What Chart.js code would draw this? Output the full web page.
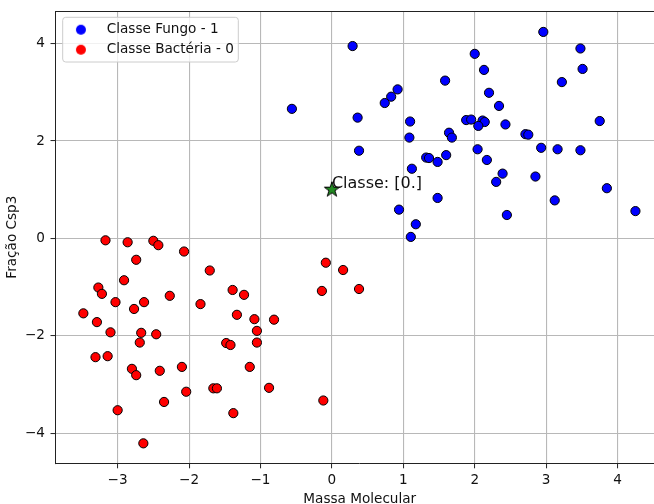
<!DOCTYPE html>
<html><head><meta charset="utf-8">
<script src="https://cdn.jsdelivr.net/npm/chart.js@4"></script>
<style>html,body{margin:0;padding:0;overflow:hidden;background:#fff;width:654px;height:504px}canvas{display:block}</style>
</head><body>
<canvas id="c" width="664" height="512"></canvas>
<script>
// ---- data ----
const blueX = [0.29,-0.56,1.585,0.92,0.83,0.74,0.36,1.095,1.64,1.68,1.085,0.38,1.32,1.36,1.60,1.48,1.12,1.48,0.94,1.175,1.105,
  2.96,3.48,2.00,2.13,3.51,3.22,2.20,2.34,1.88,1.95,2.11,2.14,2.05,2.43,3.75,2.71,2.75,2.04,2.93,3.16,3.48,2.17,2.39,2.30,2.85,3.85,3.12,4.25,2.45];
const blueY = [3.95,2.66,3.24,3.06,2.91,2.78,2.48,2.40,2.17,2.07,2.07,1.80,1.66,1.65,1.71,1.57,1.43,0.83,0.59,0.29,0.03,
  4.24,3.90,3.79,3.46,3.48,3.21,2.99,2.72,2.43,2.44,2.42,2.39,2.31,2.34,2.41,2.14,2.13,1.83,1.86,1.83,1.81,1.61,1.33,1.16,1.27,1.03,0.78,0.56,0.48];
const redX = [-3.17,-2.86,-2.50,-2.43,-2.07,-2.74,-1.71,-2.91,-3.27,-3.22,-2.27,-3.03,-2.63,-2.77,-1.84,-3.48,-3.29,-3.10,-2.67,-2.46,-2.69,-3.31,-3.14,-2.80,-2.74,-2.41,-2.10,-2.04,-2.35,-3.00,-2.64,
  -1.39,-1.23,-1.33,-1.085,-0.81,-1.05,-1.48,-1.42,-1.05,-1.15,-1.66,-1.61,-0.88,-1.38,-0.085,0.157,-0.14,0.38,-0.12];
const redY = [-0.04,-0.08,-0.05,-0.14,-0.27,-0.44,-0.66,-0.86,-1.01,-1.14,-1.18,-1.31,-1.31,-1.45,-1.35,-1.54,-1.72,-1.93,-1.94,-1.97,-2.14,-2.44,-2.42,-2.68,-2.81,-2.72,-2.64,-3.15,-3.36,-3.53,-4.21,
  -1.06,-1.16,-1.57,-1.66,-1.67,-1.90,-2.15,-2.19,-2.14,-2.64,-3.08,-3.08,-3.07,-3.59,-0.50,-0.65,-1.08,-1.04,-3.33];
const starX = [0];
const starY = [1];
const seriesLabels = ['Classe Fungo - 1', 'Classe Bactéria - 0'];
const annotationText = 'Classe: [0.]';
const xTicks = [-3,-2,-1,0,1,2,3,4];
const yTicks = [-4,-2,0,2,4];
const xTitle = 'Massa Molecular';
const yTitle = 'Fração Csp3';

// ---- styling helpers ----
const FONT = 'DejaVu Sans';
const colors = ['#0000ff', '#ff0000'];
const toPts = (xs, ys) => xs.map((x, i) => ({x, y: ys[i]}));
const fmt = v => v < 0 ? '\u2212' + Math.abs(v) : String(v);

function makeStar(R, fill) {
  const s = 20, c = document.createElement('canvas'); c.width = c.height = s;
  const g = c.getContext('2d'), cx = s / 2, cy = s / 2, r = R * 0.381966;
  g.beginPath();
  for (let i = 0; i < 10; i++) {
    const rr = i % 2 ? r : R, a = -Math.PI / 2 + i * Math.PI / 5;
    g.lineTo(cx + rr * Math.cos(a), cy + rr * Math.sin(a));
  }
  g.closePath(); g.fillStyle = fill; g.fill(); g.lineWidth = 1; g.strokeStyle = '#000'; g.stroke();
  return c;
}
function makeDot(r, fill) {
  const s = 12, c = document.createElement('canvas'); c.width = c.height = s;
  const g = c.getContext('2d');
  g.beginPath(); g.arc(s / 2, s / 2, r, 0, Math.PI * 2); g.fillStyle = fill; g.fill();
  return c;
}
const legendDots = colors.map(c => makeDot(5, c));

Chart.defaults.font.family = FONT;
Chart.defaults.font.size = 13.6;
Chart.defaults.color = '#111';

const X_MIN = -3.87, X_MAX = 4.65, Y_MIN = -4.62, Y_MAX = 4.67;

const custom = {
  id: 'custom',
  afterLayout(chart) {
    const lg = chart.legend, a = chart.chartArea;
    lg.left = a.left; lg.right = a.right; lg.top = a.top + 5.5; lg.bottom = a.bottom;
    if (!lg._framed) {
      const orig = lg.draw;
      lg.draw = function () {
        const ctx = chart.ctx, ar = chart.chartArea;
        const x = ar.left + 7.2, y = ar.top + 6.3, w = 175.6, h = 44.7, r = 3;
        ctx.save();
        ctx.beginPath();
        ctx.roundRect(x, y, w, h, r);
        ctx.fillStyle = 'rgba(255,255,255,0.8)'; ctx.fill();
        ctx.lineWidth = 1; ctx.strokeStyle = '#cccccc'; ctx.stroke();
        ctx.restore();
        return orig.apply(this, arguments);
      };
      lg._framed = true;
    }
  },
  afterDatasetsDraw(chart) {
    const ctx = chart.ctx, xs = chart.scales.x, ys = chart.scales.y;
    ctx.save();
    ctx.font = '16px "' + FONT + '"';
    ctx.fillStyle = '#111'; ctx.textAlign = 'left'; ctx.textBaseline = 'alphabetic';
    ctx.fillText(annotationText, xs.getPixelForValue(starX[0]), ys.getPixelForValue(starY[0]) - 2);
    ctx.restore();
  }
};

const noPad = s => { s.paddingTop = 0; s.paddingBottom = 0; s.paddingLeft = 0; s.paddingRight = 0; };

new Chart(document.getElementById('c'), {
  type: 'scatter',
  data: {
    datasets: [
      {label: seriesLabels[0], data: toPts(blueX, blueY), backgroundColor: colors[0], borderColor: '#000', borderWidth: 1, pointRadius: 4.6, pointHoverRadius: 4.6, order: 2},
      {label: seriesLabels[1], data: toPts(redX, redY), backgroundColor: colors[1], borderColor: '#000', borderWidth: 1, pointRadius: 4.6, pointHoverRadius: 4.6, order: 1},
      {label: 'star', data: toPts(starX, starY), pointStyle: makeStar(8, '#228b22'), pointRadius: 8, order: 0}
    ]
  },
  options: {
    responsive: false, animation: false, events: [],
    layout: {autoPadding: false, padding: {top: 11, left: 0, right: 0, bottom: 0}},
    plugins: {
      tooltip: {enabled: false},
      legend: {
        position: 'chartArea', align: 'start',
        labels: {
          usePointStyle: true, pointStyleWidth: 38, padding: 6.4, color: '#111',
          font: {family: FONT, size: 13.6},
          generateLabels: () => [0, 1].map(i => ({
            text: seriesLabels[i], fillStyle: colors[i], strokeStyle: 'rgba(0,0,0,0)', lineWidth: 0,
            pointStyle: legendDots[i], hidden: false, datasetIndex: i, fontColor: '#111'
          }))
        }
      }
    },
    scales: {
      x: {
        type: 'linear', position: 'bottom', min: X_MIN, max: X_MAX,
        afterBuildTicks: s => { s.ticks = xTicks.map(v => ({value: v})); },
        afterFit: s => { s.height = 512 - 463.3; noPad(s); },
        ticks: {callback: fmt, padding: 4, maxRotation: 0, autoSkip: false, color: '#111', font: {size: 13.6}},
        grid: {color: '#b8b8b8', lineWidth: 1.1, tickColor: '#222', tickLength: 5, tickWidth: 1},
        border: {display: true, color: '#222', width: 1},
        title: {display: true, text: xTitle, color: '#111', font: {size: 13.6}, padding: {top: 0, bottom: 4.8}}
      },
      xTop: {
        type: 'linear', position: 'top', min: X_MIN, max: X_MAX,
        afterFit: s => { s.height = 0; noPad(s); },
        ticks: {display: false},
        grid: {display: false, drawTicks: false},
        border: {display: true, color: '#222', width: 1}
      },
      y: {
        type: 'linear', position: 'left', min: Y_MIN, max: Y_MAX,
        afterBuildTicks: s => { s.ticks = yTicks.map(v => ({value: v})); },
        afterFit: s => { s.width = 55.5; noPad(s); },
        ticks: {callback: fmt, padding: 5.5, color: '#111', font: {size: 13.6}},
        grid: {color: '#b8b8b8', lineWidth: 1.1, tickColor: '#222', tickLength: 5, tickWidth: 1},
        border: {display: true, color: '#222', width: 1},
        title: {display: true, text: yTitle, color: '#111', font: {size: 13.6}, padding: {top: 4.3, bottom: 0}}
      }
    }
  },
  plugins: [custom]
});
</script>
</body></html>
